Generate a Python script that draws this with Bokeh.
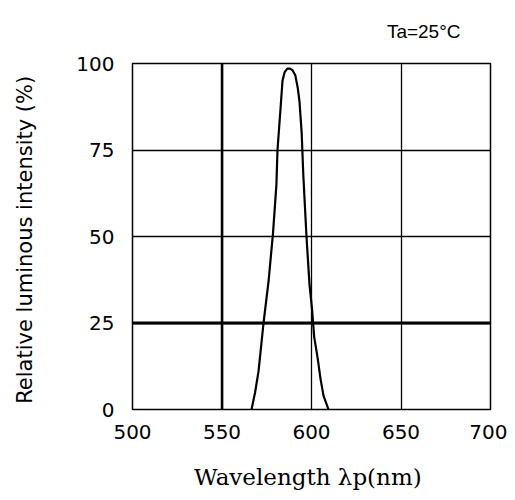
from bokeh.plotting import figure
from bokeh.models import Range1d, FixedTicker, Span
from bokeh.embed import file_html
from bokeh.resources import INLINE

# Data
wavelength = [566.5, 568.5, 570.4, 573.2, 576.0, 578.5, 580.4, 581.0, 582.7, 583.8,
              585.0, 586.5, 588.0, 589.5, 591.0, 592.3, 593.3, 594.5, 595.4, 597.2,
              598.9, 600.3, 601.5, 603.4, 605.0, 606.7, 609.5]
intensity = [0, 5, 11, 25, 37, 51, 65, 75, 87, 95,
             97.5, 98.5, 98.5, 98, 96.5, 93, 89, 80, 68, 50,
             36, 29, 21, 15, 9, 4, 0]
x_ticks = [500, 550, 600, 650, 700]
y_ticks = [0, 25, 50, 75, 100]
x_grid = [550, 600, 650]
y_grid = [25, 50, 75]
x_label = "Wavelength  λp(nm)"
y_label = "Relative luminous intensity  (%)"
note = "Ta=25°C"

p = figure(width=507, height=492, output_backend="svg", toolbar_location=None,
           x_range=Range1d(500, 700), y_range=Range1d(0, 100),
           min_border_left=132, min_border_right=17, min_border_top=63, min_border_bottom=83)

p.outline_line_color = "black"
p.outline_line_width = 1.5
p.background_fill_color = "white"
p.border_fill_color = "white"

p.title.text = note
p.title.align = "right"
p.title.offset = 30
p.title.standoff = 40
p.title.vertical_align = "top"
p.title.text_font = "Liberation Sans"
p.title.text_font_size = "19px"
p.title.text_font_style = "normal"
p.title.text_color = "black"

p.xgrid.ticker = FixedTicker(ticks=x_grid)
p.ygrid.ticker = FixedTicker(ticks=y_grid)
for g in (p.xgrid, p.ygrid):
    g.grid_line_color = "black"
    g.grid_line_width = 1.3

p.add_layout(Span(location=x_grid[0], dimension="height", line_color="black", line_width=2.5))
p.add_layout(Span(location=y_grid[0], dimension="width", line_color="black", line_width=3))

p.line(wavelength, intensity, line_color="black", line_width=2.2)

p.xaxis.ticker = FixedTicker(ticks=x_ticks)
p.yaxis.ticker = FixedTicker(ticks=y_ticks)
for ax in (p.xaxis, p.yaxis):
    ax.axis_line_color = None
    ax.major_tick_line_color = None
    ax.minor_tick_line_color = None
    ax.major_label_text_font = "DejaVu Sans"
    ax.major_label_text_font_size = "20px"
    ax.major_label_text_color = "black"
    ax.axis_label_text_font_style = "normal"
    ax.axis_label_text_color = "black"

p.xaxis.major_label_standoff = 9
p.yaxis.major_label_standoff = 12
p.xaxis.axis_label = x_label
p.xaxis.axis_label_text_font = "DejaVu Serif"
p.xaxis.axis_label_text_font_size = "23px"
p.xaxis.axis_label_standoff = 22
p.yaxis.axis_label = y_label
p.yaxis.axis_label_text_font = "DejaVu Sans"
p.yaxis.axis_label_text_font_size = "21px"
p.yaxis.axis_label_standoff = 36

open("out.html", "w").write(file_html(p, INLINE))
